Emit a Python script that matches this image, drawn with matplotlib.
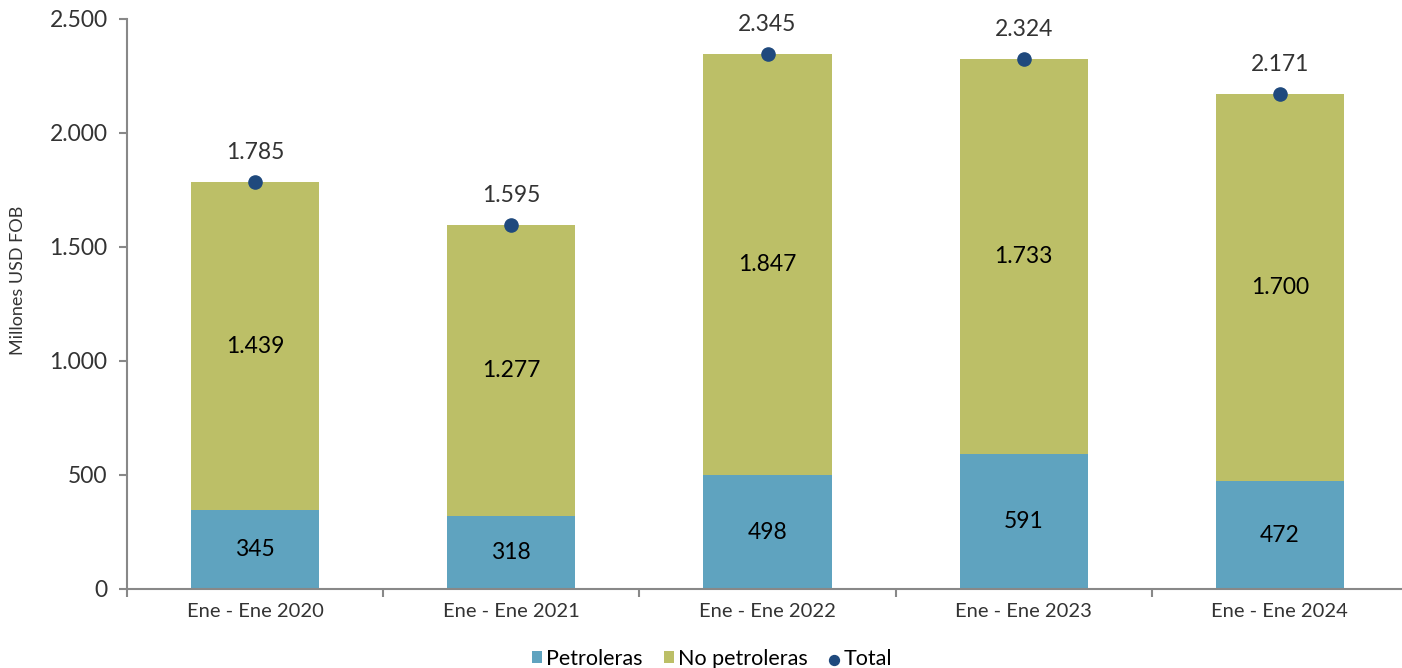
import matplotlib.pyplot as plt
import numpy as np

# datos
periodos = ["Ene - Ene 2020", "Ene - Ene 2021", "Ene - Ene 2022", "Ene - Ene 2023", "Ene - Ene 2024"]
petroleras = [345, 318, 498, 591, 472]
no_petroleras = [1439, 1277, 1847, 1733, 1700]
total = [1785, 1595, 2345, 2324, 2171]

c_pet = "#5fa3bf"
c_nopet = "#bcbf67"
c_tot = "#1f497d"

def miles(v):
    return f"{v:,.0f}".replace(",", ".")

plt.rcParams['font.family'] = ['Lato', 'DejaVu Sans']

fig = plt.figure(figsize=(14.02, 6.68), dpi=100)
ax = fig.add_axes([0.0906, 0.1183, 0.9137, 0.8533])

x = np.arange(len(periodos))
b1 = ax.bar(x, petroleras, width=0.5, color=c_pet, label="Petroleras")
b2 = ax.bar(x, no_petroleras, width=0.5, bottom=petroleras, color=c_nopet, label="No petroleras")
ax.scatter(x, total, s=90, color=c_tot, zorder=3, label="Total")

for i in range(len(x)):
    ax.text(x[i], petroleras[i] / 2, miles(petroleras[i]), ha="center", va="center",
            fontsize=16.5, color="black")
    ax.text(x[i], petroleras[i] + no_petroleras[i] / 2, miles(no_petroleras[i]),
            ha="center", va="center", fontsize=16.5, color="black")
    ax.text(x[i], total[i] + 130, miles(total[i]), ha="center", va="center",
            fontsize=16.5, color="#333333")

ax.set_xlim(-0.5, 4.5)
ax.set_ylim(0, 2500)
ax.set_yticks([0, 500, 1000, 1500, 2000, 2500])
ax.set_yticklabels([miles(v) for v in [0, 500, 1000, 1500, 2000, 2500]], fontsize=16.5, color="#333333")
ax.set_xticks(np.arange(-0.5, 5, 1))
ax.set_xticklabels([])
ax.set_xticks(x, minor=True)
ax.set_xticklabels(periodos, minor=True, fontsize=14.5, color="#333333")
ax.tick_params(axis="x", which="minor", length=0, pad=10)
ax.tick_params(axis="x", which="major", length=6, color="#888888", width=1.5)
ax.tick_params(axis="y", length=6, color="#888888", width=1.5, pad=8)

for s in ["top", "right"]:
    ax.spines[s].set_visible(False)
for s in ["left", "bottom"]:
    ax.spines[s].set_color("#888888")
    ax.spines[s].set_linewidth(1.5)

fig.text(0.013, 0.58, "Millones USD FOB", rotation=90, ha="center", va="center",
         fontsize=13, color="#333333")

fig.legend(handles=[b1, b2, ax.collections[0]], labels=["Petroleras", "No petroleras", "Total"],
           loc="center", bbox_to_anchor=(0.508, 0.014), ncol=3, frameon=False, fontsize=15.5,
           handlelength=0.45, handleheight=0.45, handletextpad=0.2, columnspacing=1.0,
           markerscale=0.75)

fig.savefig("out.png", dpi=100)
